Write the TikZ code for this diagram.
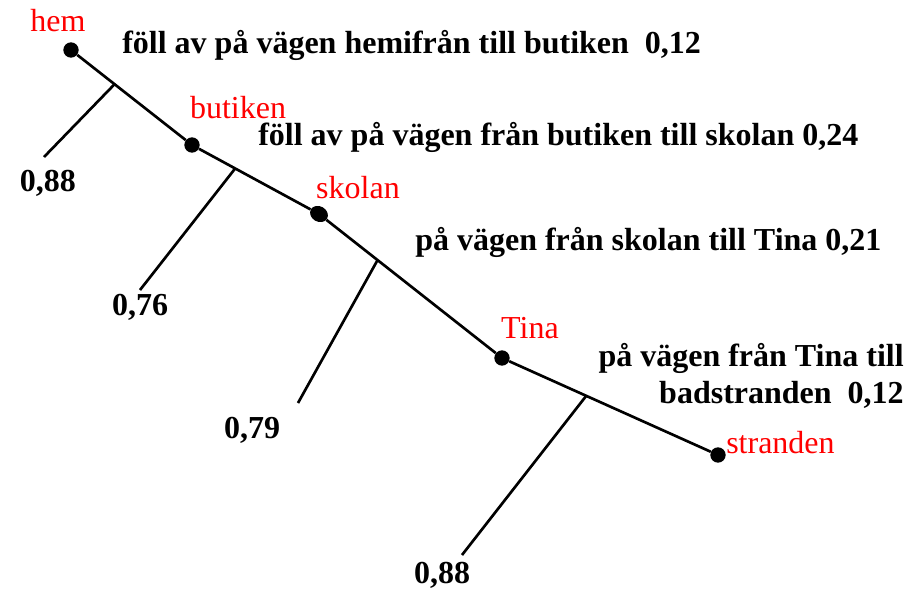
\documentclass[tikz,border=0pt]{standalone}
\usepackage{fontspec}
\setmainfont{Liberation Serif}
\usetikzlibrary{shapes.geometric, positioning, calc}
\definecolor{placered}{HTML}{ff0000}

\begin{document}
\begin{tikzpicture}[x=0.75pt, y=-0.75pt,
  stop/.style={circle, fill=black, inner sep=0pt, minimum size=11.5pt},
  place/.style={text=placered, font=\fontsize{24}{28}\selectfont, inner sep=0pt},
  prob/.style={font=\fontsize{24}{28}\selectfont\bfseries, inner sep=0pt},
  road/.style={line width=2pt}
]
\useasboundingbox (0,0) rectangle (908,590);

% stopping points along the way
\node[stop] (hem) at (71,50) {};
\node[stop] (butiken) at (192,145) {};
\node[stop, ellipse, minimum width=14pt, minimum height=11.5pt, rotate=-30] (skolan) at (319,214) {};
\node[stop] (tina) at (502,358) {};
\node[stop] (stranden) at (718,455) {};

\draw[road] (hem) -- (butiken) -- (skolan) -- (tina) -- (stranden);

% branches
\coordinate (b1) at ($(hem)!0.36!(butiken)$);
\coordinate (b2) at ($(butiken)!0.34!(skolan)$);
\coordinate (b3) at ($(skolan)!0.32!(tina)$);
\coordinate (b4) at ($(tina)!0.39!(stranden)$);
\coordinate (e1) at (44,157);
\coordinate (e2) at (140,290);
\coordinate (e3) at (298,403);
\coordinate (e4) at (462,555);
\draw[road] (b1) -- (e1);
\draw[road] (b2) -- (e2);
\draw[road] (b3) -- (e3);
\draw[road] (b4) -- (e4);

% place names
\node[place] at (58,21) {hem};
\node[place] at (238,108) {butiken};
\node[place] at (358,188) {skolan};
\node[place] at (530,328) {Tina};
\node[place, anchor=west] at (726,443) {stranden};

% probabilities
\node[prob, anchor=west] (p1) at (122,45) {föll av på vägen hemifrån till butiken\ \ 0,12};
\node[prob, anchor=west] (p2) at (258,137) {föll av på vägen från butiken till skolan 0,24};
\node[prob, anchor=west] (p3) at (415,242) {på vägen från skolan till Tina 0,21};
\node[prob, anchor=north east, align=right] (p4) at (904,343) {på vägen från Tina till\\badstranden\ \ 0,12};

\node[prob] (q1) at (48,183) {0,88};
\node[prob] (q2) at (140,307) {0,76};
\node[prob] (q3) at (252,430) {0,79};
\node[prob] (q4) at (442,575) {0,88};
\end{tikzpicture}
\end{document}
